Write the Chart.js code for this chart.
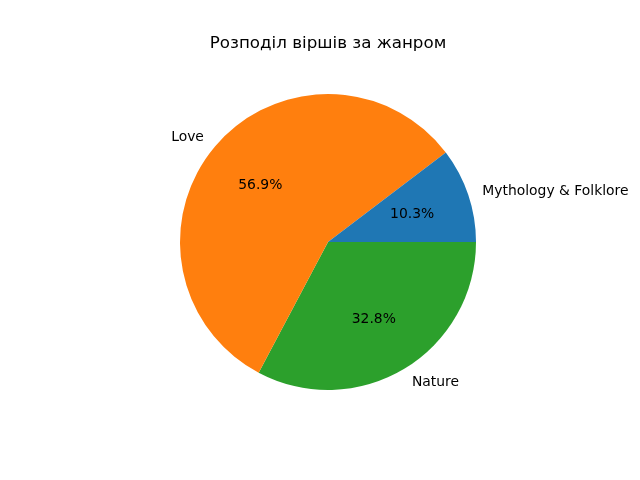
<!DOCTYPE html>
<html>
<head>
<meta charset="utf-8">
<script src="https://cdn.jsdelivr.net/npm/chart.js@4/dist/chart.umd.min.js"></script>
<style>
  html, body { margin: 0; padding: 0; background: #fff; }
  canvas { display: block; }
</style>
</head>
<body>
<canvas id="pie" width="640" height="480"></canvas>
<script>
// data, in matplotlib order (counter-clockwise from east)
const title = 'Розподіл віршів за жанром';
const genres = ['Mythology & Folklore', 'Love', 'Nature'];
const counts = [6, 33, 19];
const colors = ['#1f77b4', '#ff7f0e', '#2ca02c'];

// Chart.js draws clockwise, so feed it reversed and start at east
const labelsCw = genres.slice().reverse();
const countsCw = counts.slice().reverse();
const colorsCw = colors.slice().reverse();
const total = counts.reduce((a, b) => a + b, 0);

const FONT = '"DejaVu Sans", Verdana, sans-serif';

const textPlugin = {
  id: 'mplText',
  afterDraw(chart) {
    const ctx = chart.ctx;
    ctx.save();
    ctx.fillStyle = '#000';
    ctx.font = '16.7px ' + FONT;
    ctx.textAlign = 'center';
    ctx.textBaseline = 'middle';
    ctx.fillText(title, 328, 44);

    const meta = chart.getDatasetMeta(0);
    ctx.font = '13.9px ' + FONT;
    meta.data.forEach((arc, i) => {
      const mid = (arc.startAngle + arc.endAngle) / 2;
      const r = arc.outerRadius;
      const cx = Math.cos(mid), cy = Math.sin(mid);
      // outer label
      const lx = arc.x + cx * r * 1.1, ly = arc.y + cy * r * 1.1 + 1;
      ctx.textAlign = cx > 0 ? 'left' : 'right';
      ctx.textBaseline = 'middle';
      ctx.fillText(labelsCw[i], lx, ly);
      // percent inside
      const px = arc.x + cx * r * 0.6, py = arc.y + cy * r * 0.6 + 1;
      ctx.textAlign = 'center';
      ctx.fillText((countsCw[i] / total * 100).toFixed(1) + '%', px, py);
    });
    ctx.restore();
  }
};

new Chart(document.getElementById('pie').getContext('2d'), {
  type: 'pie',
  data: {
    labels: labelsCw,
    datasets: [{ data: countsCw, backgroundColor: colorsCw, borderWidth: 0 }]
  },
  options: {
    responsive: false,
    animation: false,
    devicePixelRatio: 1,
    rotation: 90,
    layout: { padding: { left: 180, right: 164, top: 94, bottom: 90 } },
    plugins: { legend: { display: false }, tooltip: { enabled: false }, title: { display: false } }
  },
  plugins: [textPlugin]
});
</script>
</body>
</html>
